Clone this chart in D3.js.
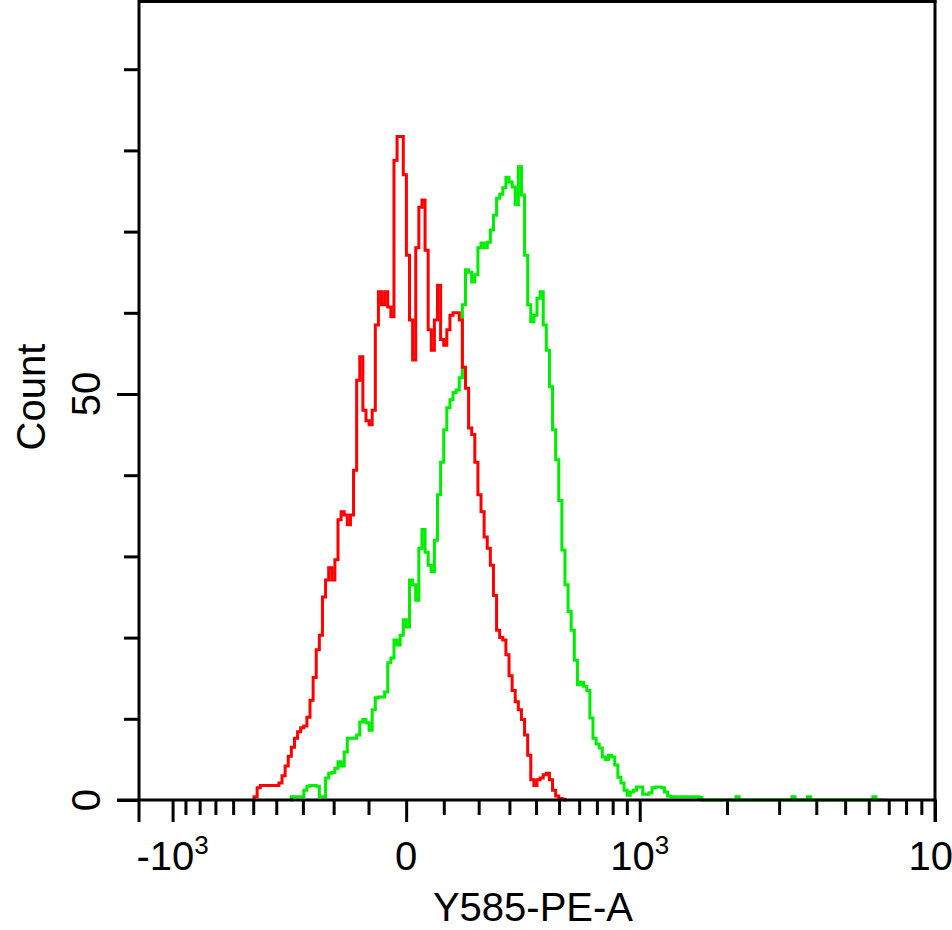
<!DOCTYPE html>
<html>
<head>
<meta charset="utf-8">
<script src="https://cdn.jsdelivr.net/npm/d3@7"></script>
<style>
  html, body { margin: 0; padding: 0; background: #fff; overflow: hidden; }
  svg { display: block; font-family: "Liberation Sans", Arial, sans-serif; }
</style>
</head>
<body>
<div id="app"></div>
<script>
// histogram counts per display channel (256 channels across the axis)
const channels = 256
const redStart = 36
const redCounts = [0, 0.4, 1.5, 1.8, 1.8, 1.8, 1.8, 1.8, 1.8,
  2.1, 3.0, 4.2, 5.4, 6.5, 7.6, 8.4, 8.9, 9.1, 10.2,
  12.3, 15.1, 18.5, 20.3, 25.0, 27.1, 28.6, 27.1, 29.6, 34.5,
  35.5, 35.1, 33.9, 35.1, 40.6, 51.7, 54.6, 48.0, 46.7, 46.2,
  48.0, 58.5, 62.6, 61.0, 62.6, 60.7, 59.5, 78.8, 81.7, 81.7,
  77.0, 67.1, 59.1, 54.2, 68.0, 73.0, 73.9, 67.7, 57.9, 55.4,
  59.1, 63.4, 56.7, 56.0, 57.9, 59.7, 60.0, 60.0, 59.1, 53.3,
  50.7, 45.8, 45.0, 41.6, 37.6, 35.5, 32.4, 31.0, 28.9, 25.2,
  20.9, 20.0, 19.7, 17.9, 15.3, 13.5, 12.1, 11.1, 9.9, 8.0,
  5.5, 2.5, 1.8, 2.5, 2.7, 3.1, 3.3, 2.5, 1.2, 0.5,
  0.2, 0.1, 0]

const greenStart = 48
const greenCounts = [0, 0.4, 0.4, 0.4, 0.4, 1.2, 1.7, 1.8, 1.8, 1.7,
  0.4, 0.4, 2.7, 3.3, 3.4, 3.9, 4.7, 4.2, 5.9, 7.6,
  7.6, 7.6, 8.0, 9.6, 9.9, 9.5, 8.6, 11.1, 12.6, 12.7,
  12.7, 13.3, 16.9, 17.5, 19.7, 19.1, 20.3, 22.2, 21.3, 27.1,
  26.5, 24.6, 31.0, 33.3, 30.5, 28.9, 28.1, 32.0, 37.6, 41.6,
  45.6, 48.3, 49.3, 50.2, 50.5, 52.0, 61.0, 65.3, 65.0, 63.8,
  64.7, 68.0, 68.6, 68.0, 68.7, 70.2, 72.0, 74.1, 74.6, 75.4,
  76.7, 76.1, 75.5, 73.3, 78.0, 74.5, 67.1, 61.0, 58.9, 59.7,
  61.8, 62.6, 58.5, 55.4, 50.9, 45.6, 41.9, 36.9, 30.8, 26.5,
  23.2, 20.9, 17.2, 14.2, 14.5, 14.0, 13.5, 10.1, 7.6, 6.9,
  6.4, 5.3, 5.0, 5.5, 5.3, 4.3, 2.8, 2.1, 1.2, 0.6,
  1.0, 1.2, 1.6, 1.6, 0.7, 0.7, 0.9, 1.5, 1.6, 1.6,
  1.5, 1.0, 0.5, 0.4, 0.4, 0.4, 0.4, 0.4, 0.4, 0.4,
  0.4, 0.4, 0.3, 0, 0, 0, 0, 0, 0, 0,
  0, 0, 0, 0, 0.4, 0, 0, 0, 0, 0,
  0, 0, 0, 0, 0, 0, 0, 0, 0, 0,
  0, 0, 0.4, 0, 0, 0, 0, 0.4, 0, 0,
  0, 0, 0, 0, 0, 0, 0, 0, 0, 0,
  0, 0, 0, 0, 0, 0, 0, 0, 0.4, 0,
  0, 0, 0]

// axis: arcsinh (biexponential-like) display
const cofactor = 340
const xMin = -1310
const xMax = 10000
const xMajor = [-1000, 0, 1000, 10000]
const xMajorLabels = [['-10', '3'], ['0', ''], ['10', '3'], ['10', '4']]
const xMinor = [-900, -800, -700, -600, -500, -400, -300, -200, -100,
  100, 200, 300, 400, 500, 600, 700, 800, 900,
  2000, 3000, 4000, 5000, 6000, 7000, 8000, 9000]

const yMax = 98.4
const yMajor = [0, 50]
const yMinor = [10, 20, 30, 40, 60, 70, 80, 90]

const xTitle = 'Y585-PE-A'
const yTitle = 'Count'

function main() {
  const width = 952
  const height = 930
  const pLeft = 139, pRight = 935, pTop = 1, pBottom = 800

  const svg = d3.select('#app')
    .append('svg')
    .attr('width', width)
    .attr('height', height)
    .attr('viewBox', `0 0 ${width} ${height}`)

  svg.append('rect').attr('width', width).attr('height', height).attr('fill', '#fff')

  const asinhT = v => Math.asinh(v / cofactor)
  const xT = d3.scaleLinear()
    .domain([asinhT(xMin), asinhT(xMax)])
    .range([pLeft, pRight])
  const xCh = d3.scaleLinear().domain([0, channels]).range([pLeft, pRight])
  const y = d3.scaleLinear().domain([0, yMax]).range([pBottom, pTop])

  const line = d3.line()
    .x(d => xCh(d.ch + 0.5))
    .y(d => y(d.n))
    .curve(d3.curveStep)

  const series = [
    { start: greenStart, counts: greenCounts, color: '#00ee00' },
    { start: redStart, counts: redCounts, color: '#ff0000' }
  ]

  series.forEach(s => {
    const pts = s.counts.map((n, i) => ({ ch: s.start + i, n }))
    svg.append('path')
      .datum(pts)
      .attr('fill', 'none')
      .attr('stroke', s.color)
      .attr('stroke-width', 3)
      .attr('d', line)
  })

  // x axis ticks
  const xMinorAxis = d3.axisBottom(xT)
    .tickValues(xMinor.map(asinhT))
    .tickSize(15)
    .tickFormat('')
  const xMajorAxis = d3.axisBottom(xT)
    .tickValues(xMajor.map(asinhT))
    .tickSize(22)
    .tickFormat('')

  const gx = svg.append('g').attr('transform', `translate(0,${pBottom})`)
  gx.append('g').call(xMinorAxis)
  gx.append('g').call(xMajorAxis)
  gx.selectAll('.domain').remove()
  gx.selectAll('.tick line').attr('stroke', '#000').attr('stroke-width', 3)

  // y axis ticks
  const yMinorAxis = d3.axisLeft(y).tickValues(yMinor).tickSize(15).tickFormat('')
  const yMajorAxis = d3.axisLeft(y).tickValues(yMajor).tickSize(22).tickFormat('')
  const gy = svg.append('g').attr('transform', `translate(${pLeft},0)`)
  gy.append('g').call(yMinorAxis)
  gy.append('g').call(yMajorAxis)
  gy.selectAll('.domain').remove()
  gy.selectAll('.tick line').attr('stroke', '#000').attr('stroke-width', 3)

  // frame and axis lines
  const frame = svg.append('g').attr('stroke', '#000').attr('stroke-width', 3).attr('fill', 'none')
  frame.append('line').attr('x1', pLeft - 22).attr('x2', pRight + 1.5).attr('y1', pBottom).attr('y2', pBottom)
  frame.append('line').attr('x1', pLeft).attr('x2', pLeft).attr('y1', 0).attr('y2', pBottom + 22)
  frame.append('line').attr('x1', pLeft).attr('x2', pRight + 1.5).attr('y1', 1.5).attr('y2', 1.5)
  frame.append('line').attr('x1', pRight).attr('x2', pRight).attr('y1', 0).attr('y2', pBottom + 22)

  // x tick labels with superscript exponents
  const xl = svg.append('g').attr('font-size', 40).attr('fill', '#000').attr('text-anchor', 'middle')
  xMajor.forEach((v, i) => {
    const t = xl.append('text').attr('x', xT(asinhT(v)) + (i === 3 ? 3 : 0)).attr('y', 870)
    t.append('tspan').text(xMajorLabels[i][0])
    if (xMajorLabels[i][1]) {
      t.append('tspan').attr('font-size', 26).attr('dy', -16).text(xMajorLabels[i][1])
    }
  })

  // y tick labels (rotated)
  svg.append('g').attr('font-size', 40).attr('fill', '#000').attr('text-anchor', 'middle')
    .selectAll('text')
    .data(yMajor)
    .join('text')
    .attr('transform', d => `translate(100,${y(d)}) rotate(-90)`)
    .text(d => d)

  // titles
  svg.append('text')
    .attr('x', 533).attr('y', 921)
    .attr('text-anchor', 'middle')
    .attr('font-size', 40)
    .text(xTitle)

  svg.append('text')
    .attr('transform', 'translate(45,397) rotate(-90)')
    .attr('text-anchor', 'middle')
    .attr('font-size', 40)
    .text(yTitle)
}

main()
</script>
</body>
</html>
